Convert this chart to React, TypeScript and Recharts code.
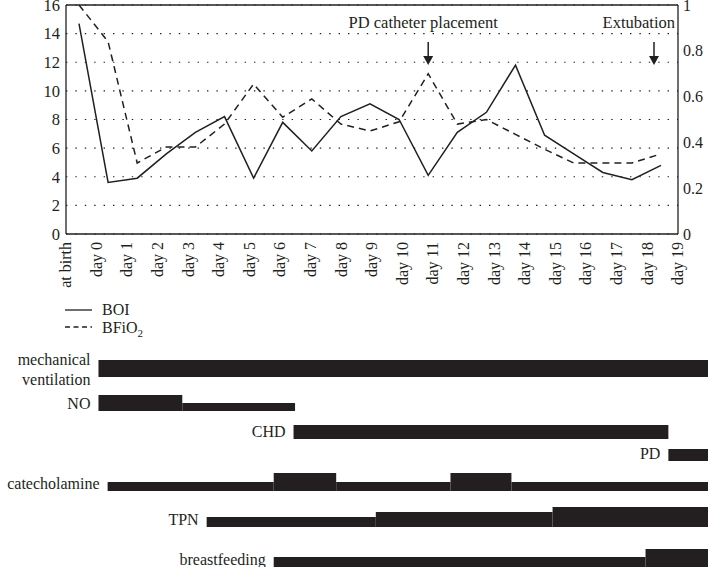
import {
  LineChart,
  Line,
  XAxis,
  YAxis,
  CartesianGrid,
  ReferenceLine,
  ReferenceDot,
  ReferenceArea,
  Legend,
  ComposedChart,
} from 'recharts'

const FONT = '"Liberation Serif", "Times New Roman", serif'
const INK = '#231f20'

// daily values
const categories = [
  'at birth', 'day 0', 'day 1', 'day 2', 'day 3', 'day 4', 'day 5', 'day 6', 'day 7', 'day 8', 'day 9',
  'day 10', 'day 11', 'day 12', 'day 13', 'day 14', 'day 15', 'day 16', 'day 17', 'day 18', 'day 19',
]
const boi = [14.7, 3.6, 3.9, 5.6, 7.1, 8.2, 3.9, 7.8, 5.8, 8.2, 9.1, 8.0, 4.1, 7.1, 8.5, 11.8, 6.9, 5.6, 4.3, 3.8, 4.8]
const bfio2 = [1.0, 0.84, 0.31, 0.38, 0.38, 0.48, 0.655, 0.51, 0.59, 0.48, 0.45, 0.49, 0.7, 0.48, 0.5, 0.435, 0.37, 0.31, 0.31, 0.31, 0.35]
const leftTicks = [0, 2, 4, 6, 8, 10, 12, 14, 16]
const rightTicks = [0, 0.2, 0.4, 0.6, 0.8, 1]

const annotations = [
  { day: 'day 11', text: 'PD catheter placement' },
  { day: 'day 19', text: 'Extubation' },
]

// therapies: [from day, to day, intensity]
const therapies = ['mechanical\nventilation', 'NO', 'CHD', 'PD', 'catecholamine', 'TPN', 'breastfeeding']
const mechVent = [[0, 20, 1.7]]
const nitricOxide = [[0, 2.75, 1.6], [2.75, 6.45, 0.8]]
const chd = [[6.4, 18.7, 1.4]]
const pd = [[18.7, 20, 1.2]]
const catecholamine = [[0.3, 5.75, 0.9], [5.75, 7.8, 1.8], [7.8, 11.55, 0.9], [11.55, 13.55, 1.8], [13.55, 20, 0.9]]
const tpn = [[3.55, 9.1, 1.0], [9.1, 14.9, 1.5], [14.9, 20, 2.0]]
const breastfeeding = [[5.75, 17.95, 1.0], [17.95, 20, 1.8]]
const therapySegments = [mechVent, nitricOxide, chd, pd, catecholamine, tpn, breastfeeding]

// layout of the therapy rows (bottom edge of each bar, px from top of the lower chart)
const ROW_BOTTOM = [37, 71, 99, 121, 151, 187, 227]
const LEVEL_PX = 10

const data = categories.map((name, i) => ({ name, boi: boi[i], bfio2: bfio2[i] }))

function DayTick({ x, y, payload }: any) {
  return (
    <text
      x={x}
      y={y}
      transform={`rotate(-90 ${x} ${y})`}
      textAnchor="end"
      dy="0.33em"
      fontSize={16}
      fontFamily={FONT}
      fill={INK}
    >
      {payload.value}
    </text>
  )
}

function Annotation({ cx, cy, text, index }: any) {
  const textX = index === 0 ? cx - 5 : cx + 14
  const arrowX = index === 0 ? cx : cx - 7
  const tip = cy + 60
  return (
    <g>
      <text
        x={textX}
        y={cy + 23}
        textAnchor={index === 0 ? 'middle' : 'end'}
        fontSize={16.5}
        fontFamily={FONT}
        fill={INK}
      >
        {text}
      </text>
      <line x1={arrowX} x2={arrowX} y1={tip - 23} y2={tip - 8} stroke={INK} strokeWidth={1.5} />
      <polygon points={`${arrowX - 5},${tip - 9} ${arrowX + 5},${tip - 9} ${arrowX},${tip}`} fill={INK} />
    </g>
  )
}

function LegendBox() {
  return (
    <svg width={100} height={42} style={{ display: 'block' }}>
      <line x1={5} x2={32} y1={12} y2={12} stroke={INK} strokeWidth={1.3} />
      <text x={42} y={17} fontSize={16} fontFamily={FONT} fill={INK}>BOI</text>
      <line x1={5} x2={32} y1={29} y2={29} stroke={INK} strokeWidth={1.3} strokeDasharray="5 3.5" />
      <text x={42} y={35} fontSize={16} fontFamily={FONT} fill={INK}>
        BFiO
        <tspan fontSize={11} dy={4}>2</tspan>
      </text>
    </svg>
  )
}

function RowLabel({ viewBox, name }: any) {
  const { x, y, height } = viewBox
  const cy = y + height - 8
  const lines = name.split('\n')
  return (
    <text
      x={x - 8}
      y={cy}
      textAnchor="end"
      fontSize={16}
      fontFamily={FONT}
      fill={INK}
      dominantBaseline="central"
    >
      {lines.map((l: string, i: number) => (
        <tspan key={l} x={x - 8} dy={lines.length === 1 ? 0 : i === 0 ? '-0.6em' : '1.2em'}>
          {l}
        </tspan>
      ))}
    </text>
  )
}

export default function App() {
  return (
    <div style={{ position: 'relative', width: 708, height: 567, overflow: 'hidden', fontFamily: FONT }}>
      <style>{'body { margin: 0; }'}</style>
      <LineChart width={708} height={340} data={data} margin={{ top: 5, right: 0, bottom: 0, left: 0 }}>
        <CartesianGrid
          xAxisId="labels"
          yAxisId="left"
          vertical={false}
          stroke={INK}
          strokeDasharray="1.4 8"
          strokeWidth={1.2}
        />
        <XAxis
          xAxisId="labels"
          dataKey="name"
          scale="point"
          padding={{ left: 0, right: 0 }}
          interval={0}
          height={106}
          tickLine={false}
          axisLine={{ stroke: INK, strokeWidth: 1.3 }}
          tick={<DayTick />}
        />
        <XAxis xAxisId="data" dataKey="name" scale="point" padding={{ left: 13, right: 17 }} height={0} hide />
        <YAxis
          yAxisId="left"
          domain={[0, 16]}
          ticks={leftTicks}
          interval={0}
          width={66}
          tickLine={false}
          tickSize={6}
          tickMargin={0}
          axisLine={{ stroke: INK, strokeWidth: 1.3 }}
          tick={{ fill: INK, fontSize: 16.5, fontFamily: FONT }}
        />
        <YAxis
          yAxisId="right"
          orientation="right"
          domain={[0, 1]}
          ticks={rightTicks}
          interval={0}
          width={30}
          tickLine={false}
          tickSize={5}
          tickMargin={0}
          axisLine={{ stroke: INK, strokeWidth: 1.3 }}
          tick={{ fill: INK, fontSize: 16, fontFamily: FONT, textAnchor: 'start' }}
        />
        <ReferenceLine xAxisId="labels" yAxisId="left" y={16} stroke={INK} strokeWidth={1.3} />
        <Line
          xAxisId="data"
          yAxisId="left"
          dataKey="boi"
          name="BOI"
          stroke={INK}
          strokeWidth={1.5}
          dot={false}
          isAnimationActive={false}
        />
        <Line
          xAxisId="data"
          yAxisId="right"
          dataKey="bfio2"
          name="BFiO2"
          stroke={INK}
          strokeWidth={1.5}
          strokeDasharray="7 5"
          dot={false}
          isAnimationActive={false}
        />
        {annotations.map((a, i) => (
          <ReferenceDot
            key={a.day}
            xAxisId="data"
            yAxisId="left"
            x={a.day}
            y={16}
            ifOverflow="visible"
            shape={(p: any) => <Annotation cx={p.cx} cy={p.cy} text={a.text} index={i} />}
          />
        ))}
        <Legend
          layout="vertical"
          verticalAlign="middle"
          align="center"
          wrapperStyle={{ top: 298, left: 60, width: 100 }}
          content={() => <LegendBox />}
        />
      </LineChart>

      <div style={{ position: 'absolute', left: 0, top: 340 }}>
        <ComposedChart width={708} height={227} data={[]} margin={{ top: 0, right: 0, bottom: 0, left: 68 }}>
          <XAxis type="number" dataKey="day" domain={[-1, 20]} allowDataOverflow hide />
          <YAxis type="number" domain={[0, 227]} reversed allowDataOverflow hide width={0} />
          {therapySegments.map((segs, r) =>
            segs.map(([from, to, level], s) => (
              <ReferenceArea
                key={`${r}-${s}`}
                x1={from}
                x2={to}
                y1={ROW_BOTTOM[r] - level * LEVEL_PX}
                y2={ROW_BOTTOM[r]}
                fill={INK}
                fillOpacity={1}
                stroke="none"
                ifOverflow="visible"
                label={s === 0 ? (p: any) => <RowLabel viewBox={p.viewBox} name={therapies[r]} /> : undefined}
              />
            )),
          )}
        </ComposedChart>
      </div>
    </div>
  )
}
